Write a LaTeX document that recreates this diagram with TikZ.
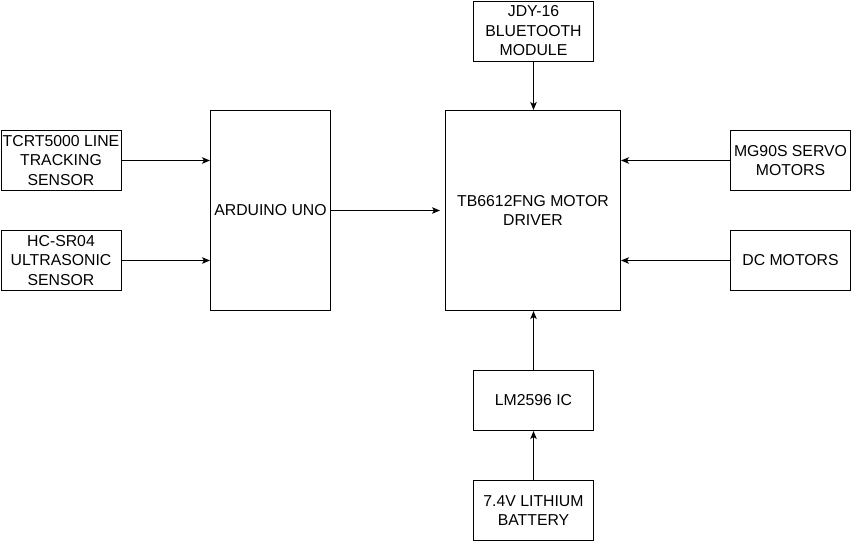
\documentclass[tikz,border=0pt]{standalone}
\usepackage{fontspec}
\setmainfont{Liberation Sans}
\usetikzlibrary{arrows.meta}
\begin{document}
\begin{tikzpicture}[x=1pt,y=-1pt,
  blk/.style={draw=black,line width=1pt,anchor=north west,inner sep=0pt,align=center,font=\fontsize{15.8}{19.5}\selectfont},
  conn/.style={line width=1pt,-{Stealth[length=8pt,width=6.5pt,inset=2pt]}}]
\useasboundingbox (0,0) rectangle (851,541);
\fill[white] (0,0) rectangle (851,541);
\node[blk,minimum width=120pt,minimum height=60pt] (tcrt) at (0.5,130) {TCRT5000 LINE\\TRACKING\\SENSOR};
\node[blk,minimum width=120pt,minimum height=60pt] (hc) at (0.5,230) {HC-SR04\\ULTRASONIC\\SENSOR};
\node[blk,minimum width=120pt,minimum height=200pt] (ard) at (210,110) {ARDUINO UNO};
\node[blk,minimum width=175pt,minimum height=200pt] (tb) at (445,110) {TB6612FNG MOTOR\\DRIVER};
\node[blk,minimum width=120pt,minimum height=60pt] (jdy) at (473,0.5) {JDY-16\\BLUETOOTH\\MODULE};
\node[blk,minimum width=120pt,minimum height=60pt] (mg) at (730,130) {MG90S SERVO\\MOTORS};
\node[blk,minimum width=120pt,minimum height=60pt] (dc) at (730,230) {DC MOTORS};
\node[blk,minimum width=120pt,minimum height=60pt] (lm) at (473,370) {LM2596 IC};
\node[blk,minimum width=120pt,minimum height=60pt] (bat) at (473,480) {7.4V LITHIUM\\BATTERY};
\draw[conn] (tcrt.east) -- (tcrt.east -| ard.west);
\draw[conn] (hc.east) -- (hc.east -| ard.west);
\draw[conn] (ard.east) -- ([xshift=-5pt]tb.west);
\draw[conn] (jdy.south) -- (jdy.south |- tb.north);
\draw[conn] (mg.west) -- (mg.west -| tb.east);
\draw[conn] (dc.west) -- (dc.west -| tb.east);
\draw[conn] (lm.north) -- (lm.north |- tb.south);
\draw[conn] (bat.north) -- (lm.south);
\end{tikzpicture}
\end{document}
